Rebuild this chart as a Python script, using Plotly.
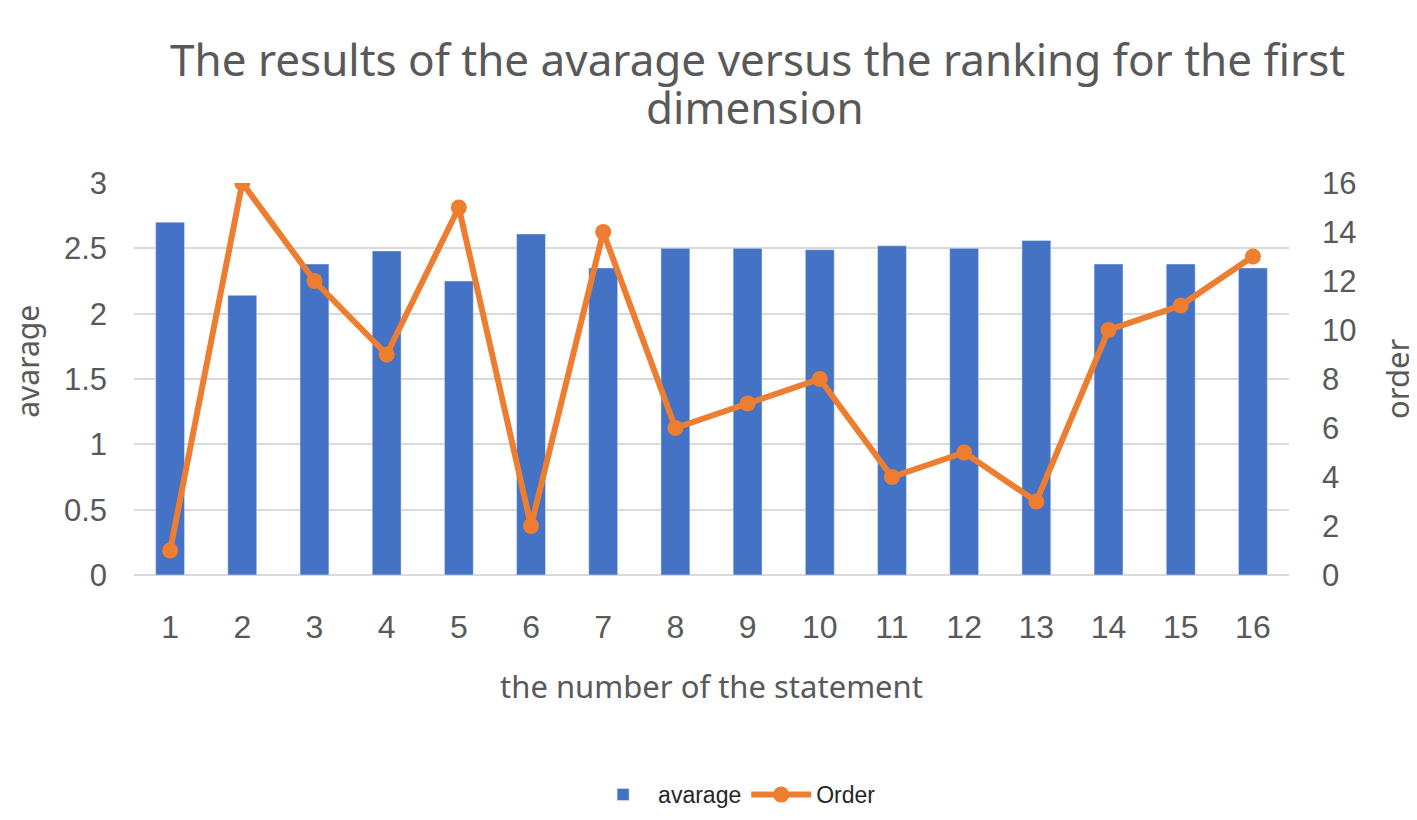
import plotly.graph_objects as go

statements = [str(i) for i in range(1, 17)]
avarage = [2.70, 2.14, 2.38, 2.48, 2.25, 2.61, 2.35, 2.50,
           2.50, 2.49, 2.52, 2.50, 2.56, 2.38, 2.38, 2.35]
order = [1, 16, 12, 9, 15, 2, 14, 6, 7, 8, 4, 5, 3, 10, 11, 13]

GRAY = '#595959'
TITLE_FONT = 'Noto Sans'
TICK_FONT = 'Liberation Sans'

fig = go.Figure()
fig.add_trace(
    go.Bar(
        x=statements,
        y=avarage,
        name='avarage',
        marker_color='#4472C4',
        width=0.4,
    )
)
fig.add_trace(
    go.Scatter(
        x=statements,
        y=order,
        name='Order',
        yaxis='y2',
        mode='lines+markers',
        line=dict(color='#ED7D31', width=6),
        marker=dict(color='#ED7D31', size=16),
    )
)

fig.update_layout(
    width=1417,
    height=820,
    margin=dict(l=126, r=136, t=175, b=246),
    plot_bgcolor='white',
    paper_bgcolor='white',
    font=dict(family=TITLE_FONT, color=GRAY),
    # title split in two so the line spacing can follow the original
    title=dict(
        text='The results of the avarage versus the ranking for the first',
        x=0.529, xanchor='center',
        y=0.936, yanchor='middle',
        font=dict(size=44, color=GRAY, family=TITLE_FONT),
    ),
    xaxis=dict(
        type='category',
        range=[-0.5, 15.5],
        tickfont=dict(size=32, color=GRAY, family=TICK_FONT),
        showgrid=False,
        showline=False,
        ticks='',
        ticklabelstandoff=30,
        title=dict(text='the number of the statement', font=dict(size=31, color=GRAY), standoff=32),
    ),
    yaxis=dict(
        range=[0, 3],
        tickvals=[0, 0.5, 1, 1.5, 2, 2.5, 3],
        ticktext=['0', '0.5', '1', '1.5', '2', '2.5', '3'],
        tickfont=dict(size=31, color=GRAY, family=TICK_FONT),
        gridcolor='#d9d9d9',
        gridwidth=2,
        zeroline=True,
        zerolinecolor='#d9d9d9',
        zerolinewidth=2,
        ticklabelstandoff=26,
        automargin=False,
    ),
    yaxis2=dict(
        range=[0, 16],
        tickvals=list(range(0, 17, 2)),
        overlaying='y',
        side='right',
        showgrid=False,
        zeroline=False,
        tickfont=dict(size=31, color=GRAY, family=TICK_FONT),
        ticklabelstandoff=32,
        automargin=False,
    ),
    legend=dict(
        orientation='h',
        x=0.52, xanchor='center',
        y=-0.56, yanchor='middle',
        font=dict(size=23, color='#262626', family=TICK_FONT),
        itemwidth=60,
    ),
    annotations=[
        dict(
            text='dimension',
            xref='paper', yref='paper',
            x=0.5377, xanchor='center',
            y=1.195, yanchor='middle',
            showarrow=False,
            font=dict(size=44, color=GRAY, family=TITLE_FONT),
        ),
        dict(
            text='avarage',
            xref='paper', yref='paper',
            x=-0.092, xanchor='center',
            y=0.546, yanchor='middle',
            textangle=-90,
            showarrow=False,
            font=dict(size=30, color=GRAY, family=TITLE_FONT),
        ),
        dict(
            text='order',
            xref='paper', yref='paper',
            x=1.0935, xanchor='center',
            y=0.5, yanchor='middle',
            textangle=-90,
            showarrow=False,
            font=dict(size=31, color=GRAY, family=TITLE_FONT),
        ),
    ],
)

fig.write_html("out.html")
